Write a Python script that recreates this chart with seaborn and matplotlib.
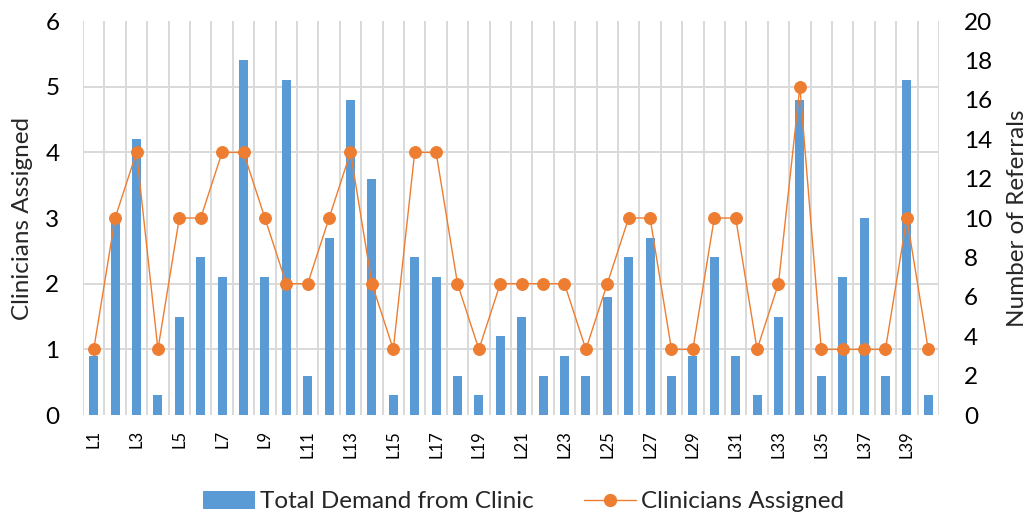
import numpy as np
import pandas as pd
import matplotlib
matplotlib.use("Agg")
import matplotlib.pyplot as plt
from matplotlib.ticker import FixedLocator
from matplotlib.patches import Patch
from matplotlib.lines import Line2D
import seaborn as sns

# Clinic locations L1..L40
locations = [f"L{i}" for i in range(1, 41)]

# Number of referrals per location (bars, right axis)
referrals = [3, 10, 14, 1, 5, 8, 7, 18, 7, 17,
             2, 9, 16, 12, 1, 8, 7, 2, 1, 4,
             5, 2, 3, 2, 6, 8, 9, 2, 3, 8,
             3, 1, 5, 16, 2, 7, 10, 2, 17, 1]

# Clinicians assigned per location (line, left axis)
clinicians = [1, 3, 4, 1, 3, 3, 4, 4, 3, 2,
              2, 3, 4, 2, 1, 4, 4, 2, 1, 2,
              2, 2, 2, 1, 2, 3, 3, 1, 1, 3,
              3, 1, 2, 5, 1, 1, 1, 1, 3, 1]

left_ticks = [0, 1, 2, 3, 4, 5, 6]
right_ticks = [0, 2, 4, 6, 8, 10, 12, 14, 16, 18, 20]

df = pd.DataFrame({"location": locations, "referrals": referrals,
                   "clinicians": clinicians})

sns.set_theme(style="white")
plt.rcParams["font.family"] = ["Lato", "DejaVu Sans"]

BAR_COLOR = "#5B9BD5"
LINE_COLOR = "#ED7D31"
GRID_COLOR = "#D9D9D9"

fig = plt.figure(figsize=(10.30, 5.13), dpi=100)
ax = fig.add_axes([0.0806, 0.191, 0.831, 0.768])
ax2 = ax.twinx()

# Bars on the secondary (referrals) axis, drawn underneath the line axis
ax.set_zorder(2)
ax.patch.set_visible(False)
ax2.set_zorder(1)

sns.barplot(data=df, x="location", y="referrals", ax=ax2, color=BAR_COLOR,
            width=0.42, saturation=1, errorbar=None, edgecolor="none")

sns.pointplot(data=df, x="location", y="clinicians", ax=ax, color=LINE_COLOR,
              errorbar=None, markers="o", markersize=8.5, linewidth=1.0)

n = len(locations)
ax.set_xlim(-0.5, n - 0.5)
ax.set_ylim(left_ticks[0], left_ticks[-1])
ax2.set_ylim(right_ticks[0], right_ticks[-1])

# Horizontal gridlines on the bar axis so bars sit on top of them
ax2.set_axisbelow(True)
ax2.yaxis.set_minor_locator(FixedLocator(
    np.linspace(right_ticks[0], right_ticks[-1], len(left_ticks))))
ax2.grid(which="minor", axis="y", color=GRID_COLOR, linewidth=1.4)
ax2.grid(which="major", visible=False)

# Vertical gridlines between categories (they never cross a bar)
ax.grid(False)
ax.set_axisbelow(True)
ax.xaxis.set_minor_locator(FixedLocator(np.arange(-0.5, n, 1.0)))
ax.grid(which="minor", axis="x", color=GRID_COLOR, linewidth=1.4)

ax.set_yticks(left_ticks)
ax.set_yticklabels([str(t) for t in left_ticks], fontsize=17.5)
ax2.set_yticks(right_ticks)
ax2.set_yticklabels([str(t) for t in right_ticks], fontsize=17.5)

ax.set_xticks(range(n))
ax.set_xticklabels([lab if i % 2 == 0 else "" for i, lab in enumerate(locations)],
                   rotation=90, fontsize=12)
ax.set_xlabel("")
ax2.set_xlabel("")

ax.set_ylabel("Clinicians Assigned", fontsize=17.5, labelpad=9)
ax2.set_ylabel("Number of Referrals", fontsize=17.5, labelpad=11)

for a in (ax, ax2):
    for s in a.spines.values():
        s.set_visible(False)
    a.tick_params(axis="both", which="both", length=0, colors="black")
ax.tick_params(axis="x", pad=11)
ax.tick_params(axis="y", pad=17)
ax2.tick_params(axis="y", pad=18)

handles = [Patch(facecolor=BAR_COLOR, edgecolor="none"),
           Line2D([], [], color=LINE_COLOR, linewidth=1.0, marker="o",
                  markersize=8.5)]
fig.legend(handles, ["Total Demand from Clinic", "Clinicians Assigned"],
           loc="center", bbox_to_anchor=(0.508, 0.022), ncol=2, frameon=False,
           fontsize=17.5, handlelength=2.15, handleheight=0.75,
           columnspacing=2.05, handletextpad=0.2)

fig.savefig("out.png", dpi=100)
